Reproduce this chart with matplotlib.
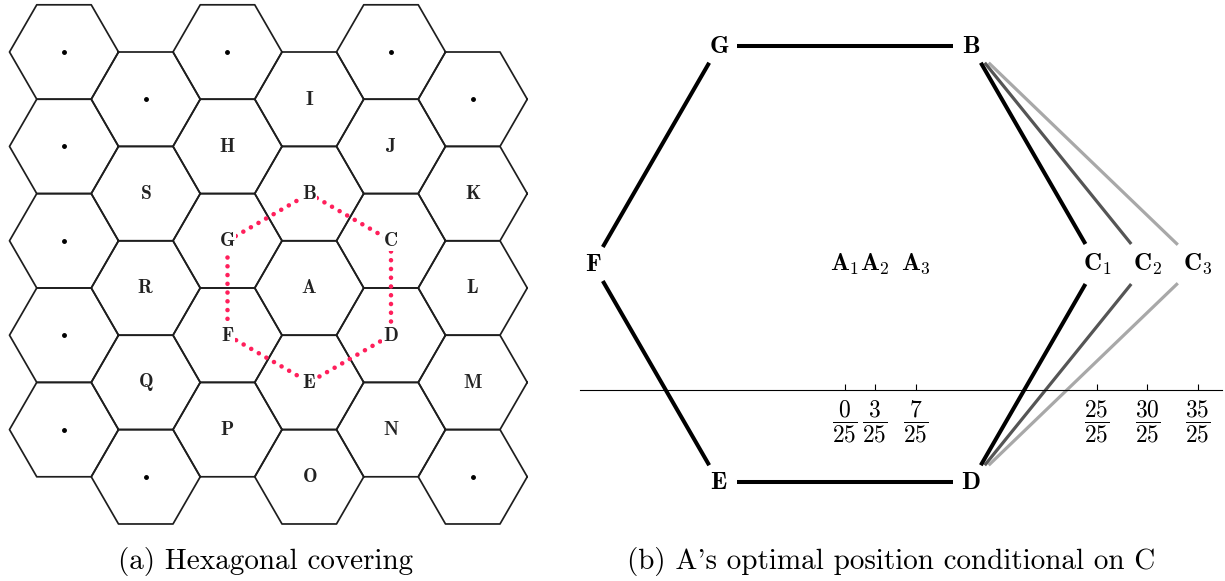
import numpy as np
import matplotlib.pyplot as plt

plt.rcParams['mathtext.fontset'] = 'cm'

# panel (a): cell labels, one list per column of hexagons (top to bottom), '.' = unnamed cell
col_labels = [
    ['.', '.', '.', '.', '.'],
    ['.', 'S', 'R', 'Q', '.'],
    ['.', 'H', 'G', 'F', 'P'],
    ['I', 'B', 'A', 'E', 'O'],
    ['.', 'J', 'C', 'D', 'N'],
    ['.', 'K', 'L', 'M', '.'],
]
ring = ['B', 'C', 'D', 'E', 'F', 'G']  # neighbours of A joined by the red dotted ring

# panel (b): positions of A and C as fractions n/25
a_num = [0, 3, 7]
c_num = [25, 30, 35]
denom = 25
c_colors = ['black', '#555555', '#a8a8a8']
c_widths = [2.9, 2.3, 2.3]

captions = ['(a) Hexagonal covering', "(b) A's optimal position conditional on C"]

W, H = 1225, 581
fig = plt.figure(figsize=(W / 100, H / 100), dpi=100)

# ---------------- panel (a) ----------------
R = 54.5  # hexagon radius in pixels
ax = fig.add_axes([0, 51 / H, 528 / W, 530 / H])
ax.set_xlim(-64 / R, (528 - 64) / R)
ax.set_ylim((530 - 52) / R, -52 / R)
ax.axis('off')

sq3 = np.sqrt(3)
ang = np.radians(np.arange(0, 361, 60))
centers = {}
for c, labs in enumerate(col_labels):
    for r, lab in enumerate(labs):
        cx = 1.5 * c
        cy = sq3 * (r + 0.5 * (c % 2))
        ax.plot(cx + np.cos(ang), cy + np.sin(ang), color='#1e1e1e', lw=1.25, zorder=1)
        if lab == '.':
            ax.plot(cx, cy, 'o', color='black', ms=2.5, zorder=3)
        else:
            centers[lab] = (cx, cy)
            ax.text(cx, cy, r'$\mathbf{%s}$' % lab, ha='center', va='center', fontsize=14,
                    color='#222222', zorder=3, bbox=dict(fc='white', ec='none', pad=0.5))

rx = [centers[k][0] for k in ring + ring[:1]]
ry = [centers[k][1] for k in ring + ring[:1]]
ax.plot(rx, ry, color='#ff1f5b', lw=3.3, linestyle=(0, (0.01, 1.9)),
        dash_capstyle='round', zorder=2)

# ---------------- panel (b) ----------------
U = 252  # pixels per unit
bx = fig.add_axes([580 / W, 51 / H, 642 / W, 530 / H])
bx.set_xlim(-265 / U, 377 / U)
bx.set_ylim(-140 / U, 390 / U)
for side in ['top', 'left', 'right']:
    bx.spines[side].set_visible(False)
bx.spines['bottom'].set_position(('data', 0))
bx.spines['bottom'].set_linewidth(0.8)
ticks = a_num + c_num
bx.set_xticks([n / denom for n in ticks])
bx.set_xticklabels([r'$\dfrac{%d}{%d}$' % (n, denom) for n in ticks])
bx.set_yticks([])
bx.tick_params(axis='x', direction='in', length=4.3, width=0.8, labelsize=17, pad=6)

yc = 0.5
s = sq3 / 2
nodes = {'G': (-0.5, yc + s), 'B': (0.5, yc + s), 'F': (-1.0, yc),
         'E': (-0.5, yc - s), 'D': (0.5, yc - s)}
box = {k: (18 / U, 17 / U) for k in nodes}
for i, n in enumerate(c_num):
    nodes['C%d' % (i + 1)] = (n / denom, yc)
    box['C%d' % (i + 1)] = (20 / U, 20 / U)

for k, (x, y) in nodes.items():
    lab = r'$\mathbf{%s}_%s$' % (k[0], k[1]) if len(k) > 1 else r'$\mathbf{%s}$' % k
    bx.text(x, y, lab, ha='center', va='center', fontsize=18)
for i, n in enumerate(a_num):
    bx.text(n / denom, yc, r'$\mathbf{A}_%d$' % (i + 1), ha='center', va='center', fontsize=18)


def edge(p, q, color='black', lw=2.9):
    p0 = np.array(nodes[p])
    q0 = np.array(nodes[q])
    d = q0 - p0

    def frac(b):
        t = []
        if d[0] != 0:
            t.append(b[0] / abs(d[0]))
        if d[1] != 0:
            t.append(b[1] / abs(d[1]))
        return min(t)

    a = p0 + frac(box[p]) * d
    b = q0 - frac(box[q]) * d
    bx.plot([a[0], b[0]], [a[1], b[1]], color=color, lw=lw, solid_capstyle='butt')


edge('G', 'B')
edge('G', 'F')
edge('F', 'E')
edge('E', 'D')
for i in reversed(range(len(c_num))):
    edge('B', 'C%d' % (i + 1), c_colors[i], c_widths[i])
    edge('D', 'C%d' % (i + 1), c_colors[i], c_widths[i])

# captions
fig.text(266 / W, 1 - 562 / H, captions[0], ha='center', va='center', family='cmr10', fontsize=21)
fig.text(891 / W, 1 - 562 / H, captions[1], ha='center', va='center', family='cmr10', fontsize=21)

fig.savefig('out.png', dpi=100)
